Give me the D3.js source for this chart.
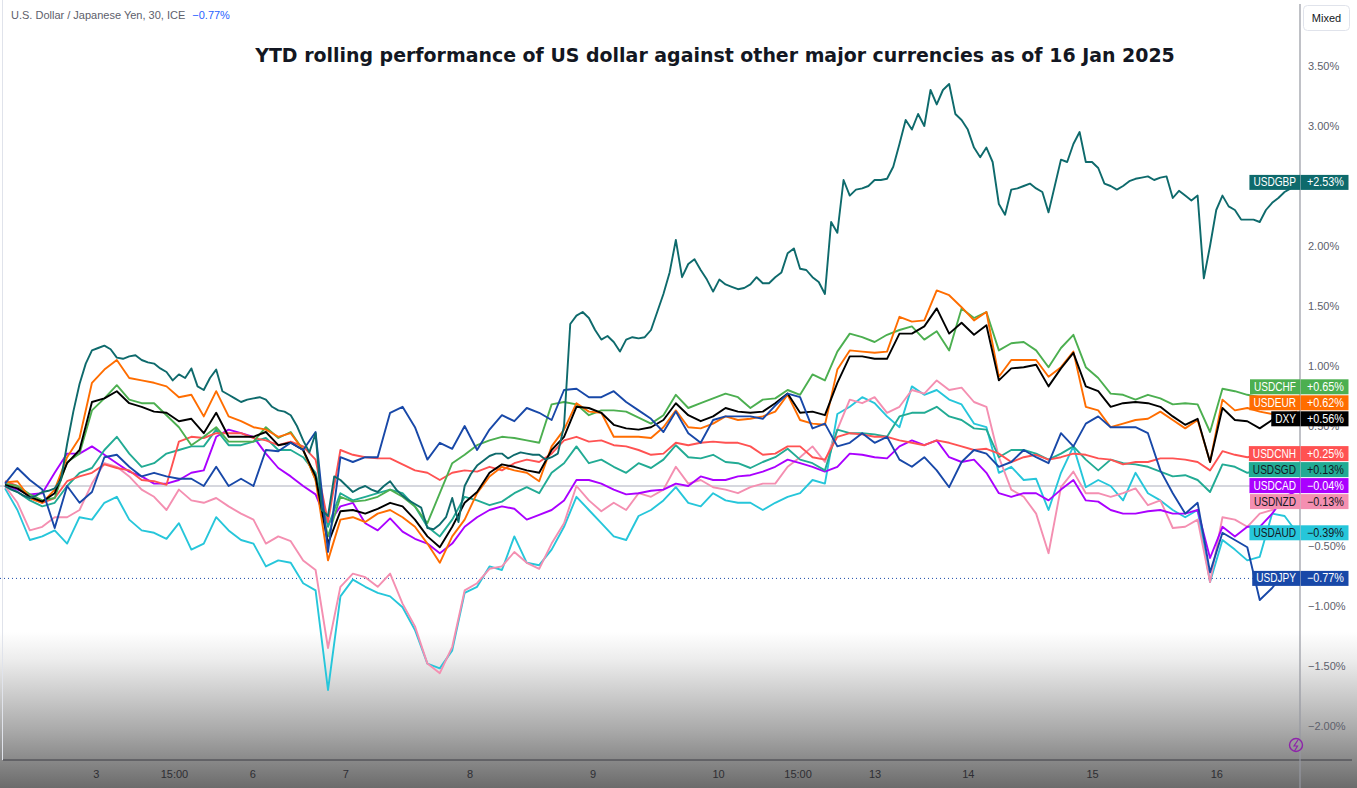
<!DOCTYPE html>
<html>
<head>
<meta charset="utf-8">
<script src="https://cdn.jsdelivr.net/npm/d3@7"></script>
<style>
body { margin: 0; background: #fff; }
#chart { width: 1357px; height: 788px; overflow: hidden; }
</style>
</head>
<body>
<div id="chart"></div>
<script>
// 30-min samples, one value every ~5 bars (USDGBP every ~2.5), % change since start of year
const dayLabels = ['3', '15:00', '6', '7', '8', '9', '10', '15:00', '13', '14', '15', '16'];
const dayPos = [7.3, 13.6, 19.9, 27.4, 37.4, 47.3, 57.4, 63.8, 70.0, 77.5, 87.5, 97.5];
const yTicks = [3.5, 3, 2.5, 2, 1.5, 1, 0.5, 0, -0.5, -1, -1.5, -2];

const usdgbp = [0.00,-0.03,-0.05,-0.08,-0.10,-0.08,-0.05,-0.04,-0.02,0.05,
0.35,0.62,0.85,1.02,1.13,1.15,1.17,1.14,1.07,1.06,
1.08,1.09,1.05,1.03,1.02,0.98,0.95,0.88,0.93,0.90,
0.98,0.83,0.80,0.90,0.97,0.79,0.76,0.73,0.70,0.72,
0.73,0.74,0.72,0.66,0.63,0.62,0.59,0.50,0.38,0.28,
0.44,-0.20,-0.25,0.08,0.05,0.00,-0.05,-0.02,0.00,-0.03,
-0.05,0.00,0.04,-0.03,-0.08,-0.12,-0.15,-0.18,-0.35,-0.36,
-0.32,-0.26,-0.10,-0.30,0.00,0.10,0.17,0.21,0.25,0.27,
0.27,0.23,0.26,0.28,0.27,0.26,0.26,0.22,0.24,0.27,
0.50,1.35,1.42,1.45,1.40,1.30,1.22,1.25,1.20,1.12,
1.22,1.24,1.23,1.24,1.30,1.45,1.60,1.78,2.05,1.74,
1.85,1.89,1.80,1.72,1.62,1.72,1.68,1.66,1.64,1.65,
1.68,1.74,1.69,1.69,1.74,1.78,1.94,1.98,1.81,1.80,
1.74,1.70,1.60,2.20,2.11,2.55,2.42,2.47,2.48,2.50,
2.55,2.55,2.56,2.66,2.85,3.05,2.97,3.10,3.00,3.30,
3.18,3.30,3.35,3.10,3.05,2.97,2.82,2.74,2.82,2.70,
2.35,2.26,2.47,2.48,2.50,2.52,2.48,2.45,2.28,2.50,
2.72,2.70,2.85,2.95,2.70,2.70,2.65,2.52,2.50,2.47,
2.50,2.54,2.56,2.57,2.58,2.55,2.57,2.58,2.40,2.46,
2.42,2.38,2.42,1.73,2.00,2.30,2.42,2.33,2.30,2.22,
2.22,2.22,2.20,2.30,2.36,2.40,2.45,2.48,2.53];

const usdeur = [0.03,0.04,-0.10,-0.14,-0.03,0.24,0.40,0.86,0.97,1.05,
0.90,0.88,0.86,0.83,0.74,0.76,0.58,0.79,0.58,0.54,
0.49,0.47,0.41,0.44,0.30,0.05,-0.62,-0.28,-0.26,-0.30,
-0.23,-0.20,-0.26,-0.34,-0.48,-0.64,-0.42,-0.28,-0.06,0.08,
0.16,0.13,0.11,0.04,0.33,0.47,0.69,0.62,0.61,0.41,
0.41,0.41,0.40,0.49,0.63,0.49,0.48,0.52,0.58,0.55,
0.56,0.58,0.62,0.76,0.55,0.52,0.51,0.97,1.13,1.12,
1.11,1.12,1.41,1.37,1.38,1.63,1.59,1.49,1.38,1.45,
0.91,1.05,1.05,1.05,0.91,0.99,1.12,0.66,0.63,0.49,
0.52,0.55,0.56,0.62,0.55,0.48,0.55,0.20,0.72,0.63,
0.65,0.62,0.60,0.60,0.62];

const dxy = [0.01,-0.02,-0.09,-0.13,-0.06,0.19,0.30,0.70,0.73,0.79,
0.69,0.66,0.62,0.61,0.54,0.56,0.44,0.61,0.41,0.41,
0.41,0.45,0.34,0.36,0.30,0.08,-0.48,-0.21,-0.20,-0.23,
-0.19,-0.14,-0.17,-0.28,-0.42,-0.51,-0.34,-0.14,-0.05,0.11,
0.18,0.16,0.13,0.11,0.30,0.41,0.66,0.65,0.61,0.51,
0.48,0.47,0.49,0.55,0.69,0.59,0.54,0.58,0.65,0.62,
0.61,0.62,0.69,0.77,0.61,0.62,0.59,0.86,1.08,1.08,
1.06,1.06,1.27,1.27,1.33,1.48,1.27,1.36,1.26,1.34,
0.88,0.98,0.99,1.01,0.83,0.98,1.11,0.83,0.79,0.66,
0.69,0.70,0.69,0.66,0.58,0.51,0.56,0.20,0.65,0.55,
0.54,0.48,0.55,0.55,0.56];

const usdchf = [0.02,0.00,-0.07,-0.12,-0.10,0.20,0.27,0.63,0.73,0.84,
0.72,0.69,0.69,0.59,0.49,0.34,0.41,0.49,0.37,0.37,
0.37,0.49,0.40,0.45,0.30,0.05,-0.42,-0.09,-0.13,-0.12,
-0.09,-0.03,-0.09,-0.17,-0.31,-0.06,0.19,0.26,0.34,0.38,
0.41,0.40,0.38,0.36,0.68,0.70,0.68,0.59,0.63,0.63,
0.62,0.57,0.52,0.59,0.76,0.65,0.69,0.73,0.77,0.74,
0.65,0.72,0.73,0.80,0.76,0.93,0.88,1.12,1.27,1.24,
1.20,1.26,1.30,1.33,1.22,1.29,1.13,1.48,1.40,1.45,
1.13,1.19,1.20,1.13,0.99,1.15,1.26,0.99,0.90,0.77,
0.76,0.72,0.76,0.73,0.68,0.69,0.68,0.45,0.81,0.79,
0.76,0.74,0.70,0.68,0.65];

const usdcnh = [0.04,0.00,-0.10,-0.14,-0.10,0.04,0.08,0.11,0.18,0.15,
0.13,0.05,0.04,0.01,0.37,0.41,0.40,0.44,0.44,0.44,
0.40,0.38,0.34,0.37,0.33,0.22,-0.30,0.30,0.26,0.24,
0.23,0.23,0.18,0.13,0.11,0.05,0.11,0.13,0.12,0.16,
0.13,0.19,0.22,0.20,0.27,0.38,0.41,0.37,0.38,0.34,
0.33,0.30,0.26,0.27,0.36,0.34,0.36,0.37,0.36,0.36,
0.33,0.26,0.27,0.33,0.33,0.24,0.22,0.41,0.44,0.43,
0.41,0.41,0.38,0.36,0.34,0.38,0.36,0.33,0.30,0.31,
0.27,0.20,0.24,0.26,0.22,0.24,0.27,0.26,0.23,0.22,
0.18,0.20,0.20,0.23,0.23,0.22,0.20,0.13,0.29,0.26,
0.24,0.26,0.25,0.25,0.25];

const usdsgd = [0.00,-0.05,-0.12,-0.17,-0.14,0.00,0.11,0.15,0.30,0.41,
0.27,0.16,0.19,0.27,0.30,0.33,0.33,0.47,0.34,0.34,
0.37,0.40,0.30,0.30,0.24,0.11,-0.34,-0.06,-0.12,-0.09,
-0.06,-0.03,-0.06,-0.17,-0.34,-0.42,-0.28,-0.09,-0.12,-0.16,
-0.13,-0.06,-0.01,-0.06,0.11,0.19,0.33,0.19,0.22,0.16,
0.11,0.19,0.15,0.22,0.34,0.24,0.23,0.26,0.20,0.19,
0.15,0.20,0.24,0.31,0.22,0.19,0.13,0.47,0.44,0.44,
0.43,0.41,0.58,0.61,0.61,0.66,0.58,0.55,0.48,0.47,
0.24,0.30,0.30,0.27,0.22,0.27,0.33,0.22,0.13,0.22,
0.19,0.18,0.16,0.12,0.08,0.09,0.05,-0.05,0.18,0.16,
0.11,0.13,0.12,0.13,0.13];

const usdcad = [0.00,-0.03,-0.07,-0.06,0.11,0.27,0.27,0.33,0.26,0.19,
0.12,0.08,0.02,0.02,0.05,0.11,0.13,0.41,0.47,0.44,
0.41,0.27,0.15,0.08,0.00,-0.07,-0.32,-0.17,-0.14,-0.31,
-0.37,-0.27,-0.38,-0.44,-0.48,-0.56,-0.48,-0.34,-0.26,-0.20,
-0.17,-0.19,-0.28,-0.24,-0.20,-0.12,0.05,0.05,0.02,-0.03,
-0.07,-0.06,-0.04,-0.03,0.02,0.00,0.08,0.05,0.05,0.08,
0.09,0.12,0.16,0.22,0.19,0.16,0.12,0.16,0.27,0.26,
0.24,0.23,0.33,0.38,0.34,0.38,0.24,0.20,0.22,0.11,
-0.06,-0.09,-0.06,-0.06,-0.12,-0.03,0.05,-0.12,-0.13,-0.20,
-0.23,-0.23,-0.21,-0.20,-0.23,-0.23,-0.20,-0.60,-0.34,-0.42,
-0.34,-0.34,-0.23,-0.09,-0.04];

const usdnzd = [0.00,-0.14,-0.37,-0.34,-0.26,-0.26,-0.20,0.02,0.19,0.16,
0.08,-0.03,-0.09,-0.20,-0.03,-0.12,-0.14,-0.10,-0.17,-0.23,
-0.28,-0.48,-0.42,-0.46,-0.62,-0.70,-1.35,-0.84,-0.73,-0.76,
-0.84,-0.73,-0.98,-1.17,-1.48,-1.56,-1.34,-0.87,-0.81,-0.69,
-0.67,-0.55,-0.64,-0.69,-0.48,-0.31,0.00,-0.12,-0.21,-0.14,
-0.20,-0.06,-0.09,-0.03,0.16,0.02,0.05,-0.01,-0.03,-0.06,
-0.01,0.02,0.02,0.16,0.24,0.33,0.20,0.47,0.72,0.69,
0.74,0.61,0.66,0.80,0.77,0.88,0.80,0.82,0.70,0.66,
0.24,-0.03,-0.09,-0.23,-0.56,-0.01,0.12,-0.06,-0.06,-0.09,
-0.06,-0.02,-0.16,-0.12,-0.35,-0.34,-0.28,-0.80,-0.26,-0.28,
-0.34,-0.23,-0.20,-0.15,-0.13];

const usdaud = [-0.02,-0.20,-0.45,-0.42,-0.37,-0.48,-0.26,-0.28,-0.14,-0.09,
-0.28,-0.37,-0.39,-0.44,-0.31,-0.53,-0.48,-0.26,-0.37,-0.45,
-0.48,-0.67,-0.62,-0.64,-0.81,-0.87,-1.70,-0.92,-0.78,-0.84,
-0.89,-0.92,-1.01,-1.20,-1.48,-1.52,-1.37,-0.89,-0.84,-0.67,
-0.70,-0.42,-0.64,-0.66,-0.53,-0.34,-0.09,-0.20,-0.31,-0.42,
-0.45,-0.25,-0.20,-0.12,-0.01,-0.14,-0.17,-0.06,-0.12,-0.14,
-0.14,-0.20,-0.14,-0.09,-0.06,0.05,0.02,0.60,0.66,0.74,
0.69,0.58,0.49,0.83,0.76,0.80,0.72,0.68,0.52,0.49,
0.11,0.16,0.05,0.06,-0.20,0.11,0.33,-0.01,0.05,0.00,
-0.12,0.11,-0.06,-0.12,-0.20,-0.26,-0.20,-0.80,-0.45,-0.53,
-0.62,-0.59,-0.23,-0.25,-0.39];

const usdjpy = [0.02,0.15,0.05,-0.03,-0.35,0.00,-0.14,-0.05,0.24,0.26,
0.16,0.08,0.11,0.08,0.06,0.06,0.00,0.16,0.00,0.06,
0.00,0.30,0.29,0.36,0.30,0.45,-0.55,0.24,0.20,0.24,
0.24,0.61,0.66,0.49,0.22,0.36,0.31,0.50,0.30,0.47,
0.59,0.54,0.65,0.61,0.55,0.80,0.81,0.74,0.74,0.79,
0.70,0.63,0.56,0.45,0.62,0.44,0.36,0.55,0.58,0.58,
0.58,0.56,0.67,0.77,0.74,0.48,0.52,0.33,0.36,0.44,
0.36,0.41,0.22,0.16,0.24,0.13,-0.01,0.20,0.30,0.27,
0.16,0.20,0.30,0.24,0.19,0.44,0.33,0.52,0.58,0.49,
0.49,0.49,0.44,0.13,-0.06,-0.23,-0.14,-0.72,-0.39,-0.45,
-0.51,-0.95,-0.85,-0.72,-0.77];

const names = ['USDAUD', 'USDNZD', 'USDCAD', 'USDSGD', 'USDCNH', 'USDCHF', 'USDEUR', 'DXY', 'USDJPY', 'USDGBP'];
const values = {
  USDGBP: usdgbp, USDEUR: usdeur, DXY: dxy, USDCHF: usdchf, USDCNH: usdcnh,
  USDSGD: usdsgd, USDCAD: usdcad, USDNZD: usdnzd, USDAUD: usdaud, USDJPY: usdjpy
};

const colors = {
  USDGBP: '#0e6a6c', USDEUR: '#ff6d00', DXY: '#000000', USDCHF: '#4caf50', USDCNH: '#ff5252',
  USDSGD: '#22ab94', USDCAD: '#aa00ff', USDNZD: '#f48fb1', USDAUD: '#26c6da', USDJPY: '#1848a8'
};
const darkText = ['USDSGD', 'USDNZD', 'USDAUD'];

const width = 1357;
const height = 788;
const axisX = 1300;
const axisY = 760;
const n = usdeur.length;

const svg = d3.select('#chart')
  .append('svg')
  .attr('width', width)
  .attr('height', height)
  .style('font-family', '"Liberation Sans", Arial, sans-serif');

const x = d3.scaleLinear()
  .domain([0, n - 1])
  .range([5, 1297]);

const y = d3.scaleLinear()
  .domain([-2.5, 4.05])
  .range([786, 0]);

const pct = d => (d < 0 ? '\u2212' : '') + Math.abs(d).toFixed(2) + '%';
const last = arr => arr[arr.length - 1];

// grey fade at the bottom
const grad = svg.append('defs').append('linearGradient')
  .attr('id', 'fade').attr('x1', 0).attr('x2', 0).attr('y1', 0).attr('y2', 1);
[[0.07, '#ffffff'], [0.24, '#ececec'], [0.48, '#c6c6c6'], [0.66, '#a9a9a9'], [1, '#6b6b6b']]
  .forEach(s => grad.append('stop').attr('offset', s[0]).attr('stop-color', s[1]));

svg.append('rect')
  .attr('x', 0).attr('y', 620)
  .attr('width', width).attr('height', height - 620)
  .attr('fill', 'url(#fade)');

svg.append('line')
  .attr('x1', 2.5).attr('x2', 2.5).attr('y1', 0).attr('y2', axisY)
  .attr('stroke', '#e0e3eb');

// zero line and JPY price line
svg.append('line')
  .attr('x1', 0).attr('x2', axisX)
  .attr('y1', y(0)).attr('y2', y(0))
  .attr('stroke', '#c9cad3').attr('stroke-width', 1.5);

svg.append('line')
  .attr('x1', 0).attr('x2', axisX)
  .attr('y1', y(last(usdjpy))).attr('y2', y(last(usdjpy)))
  .attr('stroke', colors.USDJPY).attr('stroke-width', 1)
  .attr('stroke-dasharray', '1,3');

// each series may be sampled finer; spread its points over the same index range
const lineFor = arr => d3.line()
  .x((d, i) => x(i * (n - 1) / (arr.length - 1)))
  .y(d => y(d))(arr);

svg.append('g')
  .selectAll('path')
  .data(names)
  .join('path')
  .attr('d', d => lineFor(values[d]))
  .attr('fill', 'none')
  .attr('stroke', d => colors[d])
  .attr('stroke-width', 1.9)
  .attr('stroke-linejoin', 'round');

// x axis
svg.append('line')
  .attr('x1', 3).attr('x2', 1352)
  .attr('y1', axisY).attr('y2', axisY)
  .attr('stroke', '#3d3d45').attr('stroke-width', 1.2);

const xAxis = svg.append('g')
  .attr('transform', `translate(0,${axisY})`)
  .call(d3.axisBottom(x).tickValues(dayPos).tickFormat((d, i) => dayLabels[i]).tickSize(0).tickPadding(10));
xAxis.select('.domain').remove();
xAxis.selectAll('text')
  .attr('fill', '#2e2e33')
  .style('font-size', '11px')
  .style('font-family', '"Liberation Sans", Arial, sans-serif');

// end labels, pushed up where they collide
const labels = names.map(d => ({ name: d, v: last(values[d]), ty: y(last(values[d])) }))
  .sort((a, b) => b.ty - a.ty);
labels.forEach((d, i) => {
  d.ly = i === 0 ? d.ty : Math.min(d.ty, labels[i - 1].ly - 16);
});

// y axis, ticks sitting right under a label are hidden like on the price scale
const shownTicks = yTicks.filter(t => !labels.some(l => Math.abs(l.ly - y(t)) < 6));
const yAxis = svg.append('g')
  .attr('transform', `translate(${axisX},0)`)
  .call(d3.axisRight(y).tickValues(shownTicks).tickFormat(pct).tickSize(0).tickPadding(8));
yAxis.select('.domain').remove();
yAxis.selectAll('text')
  .attr('fill', '#5d606b')
  .style('font-size', '11px')
  .style('font-family', '"Liberation Sans", Arial, sans-serif');

svg.append('line')
  .attr('x1', axisX).attr('x2', axisX)
  .attr('y1', 4).attr('y2', height)
  .attr('stroke', '#9598a1').attr('stroke-width', 1.2);

const lab = svg.append('g')
  .selectAll('g')
  .data(labels)
  .join('g')
  .attr('transform', d => `translate(0,${d.ly})`);

lab.append('text')
  .attr('class', 'nm')
  .attr('x', axisX - 4)
  .attr('y', 4)
  .attr('text-anchor', 'end')
  .style('font-size', '12px')
  .attr('fill', d => darkText.includes(d.name) ? '#131722' : '#ffffff')
  .text(d => d.name);

lab.append('text')
  .attr('class', 'val')
  .attr('x', 1344)
  .attr('y', 4)
  .attr('text-anchor', 'end')
  .style('font-size', '12px')
  .attr('fill', d => darkText.includes(d.name) ? '#131722' : '#ffffff')
  .text(d => (d.v >= 0 ? '+' : '\u2212') + Math.abs(d.v).toFixed(2) + '%');

lab.each(function (d) {
  const g = d3.select(this);
  const nm = g.select('.nm');
  const w = nm.node().getComputedTextLength() * 0.84;
  nm.attr('textLength', w).attr('lengthAdjust', 'spacingAndGlyphs');
  const val = g.select('.val');
  val.attr('textLength', val.node().getComputedTextLength() * 0.9).attr('lengthAdjust', 'spacingAndGlyphs');
  g.insert('rect', 'text')
    .attr('x', axisX - w - 8)
    .attr('y', -7.5)
    .attr('width', w + 8)
    .attr('height', 15)
    .attr('fill', colors[d.name]);
  g.insert('rect', 'text')
    .attr('x', axisX + 0.5)
    .attr('y', -7.5)
    .attr('width', 48)
    .attr('height', 15)
    .attr('fill', colors[d.name]);
});

// little event marker near the axis
svg.append('circle')
  .attr('cx', 1296).attr('cy', 745).attr('r', 6.5)
  .attr('fill', 'none').attr('stroke', '#8e24aa').attr('stroke-width', 1.4);
svg.append('path')
  .attr('d', 'M1298,740 L1294,746 L1297.5,746 L1294.5,751')
  .attr('fill', 'none').attr('stroke', '#8e24aa').attr('stroke-width', 1.2);

// header
const head = svg.append('text')
  .attr('x', 11).attr('y', 19)
  .style('font-size', '11px')
  .attr('fill', '#5d606b');
head.append('tspan').text('U.S. Dollar / Japanese Yen, 30, ICE');
head.append('tspan').attr('dx', 7).attr('fill', '#2962ff').text(pct(last(usdjpy)));

const title = svg.append('text')
  .attr('x', 715).attr('y', 62)
  .attr('text-anchor', 'middle')
  .style('font-family', '"DejaVu Sans", Verdana, sans-serif')
  .style('font-weight', 'bold')
  .style('font-size', '18px')
  .attr('fill', '#131722')
  .text('YTD rolling performance of US dollar against other major currencies as of 16 Jan 2025');
const tw = title.node().getComputedTextLength();
title.style('font-size', (18 * 920 / tw).toFixed(2) + 'px');

// "Mixed" button
svg.append('rect')
  .attr('x', 1303.5).attr('y', 5.5).attr('width', 46).attr('height', 25).attr('rx', 4)
  .attr('fill', '#ffffff').attr('stroke', '#e0e3eb');
svg.append('text')
  .attr('x', 1326.5).attr('y', 22)
  .attr('text-anchor', 'middle')
  .style('font-size', '11px')
  .attr('fill', '#131722')
  .text('Mixed');

svg.node();
</script>
</body>
</html>
